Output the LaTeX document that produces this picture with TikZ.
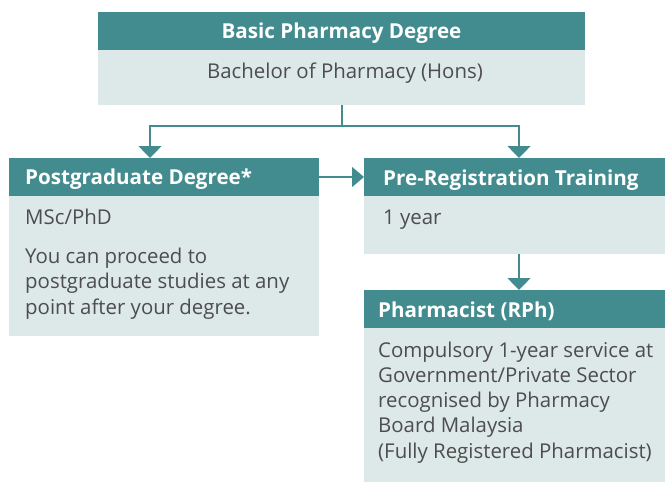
\documentclass[tikz,border=0pt]{standalone}
\usepackage{fontspec}
\setmainfont{Open Sans}
\usetikzlibrary{arrows.meta}
\definecolor{teal1}{HTML}{428C90}
\definecolor{pale1}{HTML}{DCE9E8}
\definecolor{txt1}{HTML}{4D4D4D}
\tikzset{
  hdr/.style={fill=teal1, draw=none, anchor=north west, inner sep=0pt},
  bdy/.style={fill=pale1, draw=none, anchor=north west, inner sep=0pt},
  htext/.style={text=white, font=\fontsize{20.6}{24}\selectfont\bfseries, inner sep=0pt},
  btext/.style={text=txt1, font=\fontsize{20.4}{25}\selectfont, inner sep=0pt, anchor=base west},
  conn/.style={draw=teal1, line width=1.4pt},
  arr/.style={conn, -{Triangle[width=23pt,length=12pt]}},
  arrh/.style={conn, -{Triangle[width=20pt,length=12pt]}},
}
\begin{document}
\begin{tikzpicture}[x=1pt,y=-1pt]
\useasboundingbox (0,0) rectangle (665,482);
% top box
\node[hdr, minimum width=487pt, minimum height=38pt] (toph) at (98,12) {};
\node[bdy, minimum width=487pt, minimum height=55pt] (topb) at (98,50) {};
\node[htext, anchor=base] (topht) at (341.5,38) {Basic Pharmacy Degree};
\node[btext, anchor=base] (topbt) at (345,78) {Bachelor of Pharmacy (Hons)};
% left box
\node[hdr, minimum width=310pt, minimum height=38pt] (lefth) at (9,158) {};
\node[bdy, minimum width=310pt, minimum height=140pt] (leftb) at (9,196) {};
\node[htext, anchor=base west] (leftht) at (25,184) {Postgraduate Degree*};
\node[btext] (lb1) at (25,224) {MSc/PhD};
\node[btext] (lb2) at (25,263) {You can proceed to};
\node[btext] (lb3) at (25,288.5) {postgraduate studies at any};
\node[btext] (lb4) at (25,314) {point after your degree.};
% right box
\node[hdr, minimum width=301pt, minimum height=38pt] (righth) at (364,158) {};
\node[bdy, minimum width=301pt, minimum height=58pt] (rightb) at (364,196) {};
\node[htext, anchor=base west] (rightht) at (383,185) {Pre-Registration Training};
\node[btext] (rb1) at (383,224) {1 year};
% pharmacist box
\node[hdr, minimum width=301pt, minimum height=38pt] (phh) at (364,290) {};
\node[bdy, minimum width=301pt, minimum height=154pt] (phb) at (364,328) {};
\node[htext, anchor=base west] (phht) at (378,317) {Pharmacist (RPh)};
\node[btext] (pb1) at (378,357) {Compulsory 1-year service at};
\node[btext] (pb2) at (378,382.3) {Government/Private Sector};
\node[btext] (pb3) at (378,407.6) {recognised by Pharmacy};
\node[btext] (pb4) at (378,432.9) {Board Malaysia};
\node[btext] (pb5) at (378,458.2) {(Fully Registered Pharmacist)};
% connectors
\coordinate (jn) at (342,126);
\draw[conn] (topb.south -| jn) -- (jn);
\draw[arr] (jn) -| (lefth.north -| 150,0);
\draw[arr] (jn) -| (righth.north -| 519,0);
\draw[arrh] (lefth.east |- 0,177) -- (righth.west |- 0,177);
\draw[arr] (rightb.south -| 519,0) -- (phh.north -| 519,0);
\end{tikzpicture}
\end{document}
